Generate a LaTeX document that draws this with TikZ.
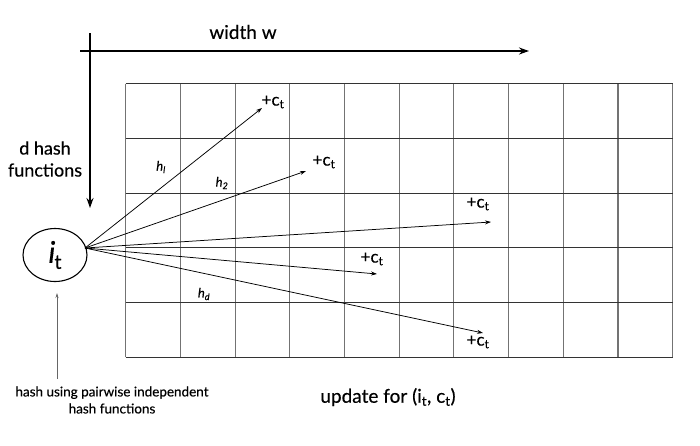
\documentclass[tikz,border=0pt]{standalone}
\usepackage{fontspec}
\setmainfont{Lato}[FakeBold=0.35]
\usetikzlibrary{shapes.geometric,arrows.meta}
\begin{document}
\begin{tikzpicture}[x=1pt,y=-1pt,
  vline/.style={draw=black!55, line width=1.1pt},
  hline/.style={draw=black!80, line width=0.8pt},
  hasharrow/.style={-{Stealth[length=6pt,width=4pt]}, line width=0.75pt},
  axis/.style={line width=1.7pt, -{Stealth[length=10pt,width=7pt]}},
  plus/.style={font=\fontsize{17}{19}\selectfont, inner sep=0pt},
  hlab/.style={font=\fontsize{13}{15}\selectfont\itshape, inner sep=0pt},
  big/.style={font=\fontsize{19}{23}\selectfont, inner sep=0pt},
  note/.style={font=\fontsize{13.5}{17}\selectfont, inner sep=0pt, align=center}]
\useasboundingbox (0,0) rectangle (700,445);
% grid
\foreach \i in {0,...,10} \draw[vline] ({125.7+\i*54.7},83.7) -- ({125.7+\i*54.7},357.2);
\foreach \j in {0,...,5} \draw[hline] (125.7,{83.7+\j*54.7}) -- (672.7,{83.7+\j*54.7});
% axes
\coordinate (hA) at (80,51);
\coordinate (hB) at (529,51);
\coordinate (vA) at (90,33);
\coordinate (vB) at (90,208);
\draw[axis] (hA) -- (hB);
\draw[axis] (vA) -- (vB);
\node[big] (ww) at (243,32) {width w};
\node[align=center, inner sep=0pt, font=\fontsize{18}{22}\selectfont] (dh) at (45,159) {d hash\\functions};
% item
\node[draw, ellipse, line width=1.1pt, minimum width=64, minimum height=53, inner sep=0pt] (it) at (55,255)
  {\fontsize{30}{32}\selectfont\textit{i}\kern-1pt\raisebox{-6pt}{\fontsize{20}{22}\selectfont t}};
\coordinate (src) at (85,248);
% targets
\coordinate (t1) at (262,108);
\coordinate (t2) at (306,171);
\coordinate (t3) at (491,222);
\coordinate (t4) at (377,274);
\coordinate (t5) at (483,333);
\foreach \t in {t1,t2,t3,t4,t5} \draw[hasharrow] (src) -- (\t);
\node[plus] (p1) at (273,102) {+c\textsubscript{t}};
\node[plus] (p2) at (324,162) {+c\textsubscript{t}};
\node[plus] (p3) at (478,204) {+c\textsubscript{t}};
\node[plus] (p4) at (372,259) {+c\textsubscript{t}};
\node[plus] (p5) at (478,342) {+c\textsubscript{t}};
\node[hlab] (h1) at (161,167) {h\textsubscript{\itshape l}};
\node[hlab] (h2) at (222,183) {h\textsubscript{2}};
\node[hlab] (hd) at (204,294) {h\textsubscript{d}};
% note
\node[note] (nt) at (112,400) {hash using pairwise independent\\hash functions};
\coordinate (nA) at (57,379);
\coordinate (nB) at (57,293);
\draw[black!60, line width=0.7pt, -{Stealth[length=5pt,width=3pt]}] (nA) -- (nB);
\node[big] (up) at (388,397) {update for (i\textsubscript{t}, c\textsubscript{t})};
\end{tikzpicture}
\end{document}
